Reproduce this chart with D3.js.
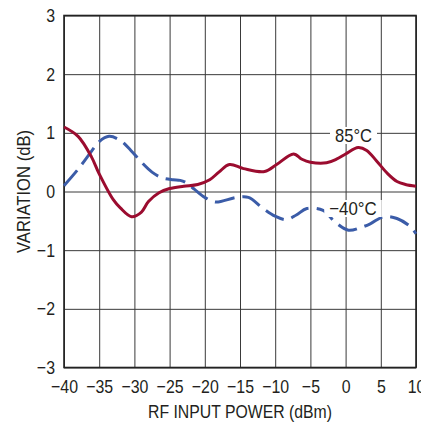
<!DOCTYPE html>
<html><head><meta charset="utf-8">
<script src="https://cdn.jsdelivr.net/npm/d3@7"></script>
<style>
html,body{margin:0;padding:0;background:#fff;}
svg{display:block;}
text{font-family:"Liberation Sans Narrow","Arial Narrow","Liberation Sans",sans-serif;fill:#231f20;}
</style></head>
<body>
<svg id="chart" width="421" height="423"></svg>
<script>
// ---- data ----
const xTicks = [-40,-35,-30,-25,-20,-15,-10,-5,0,5,10];
const yTicks = [-3,-2,-1,0,1,2,3];
const xTitle = "RF INPUT POWER (dBm)";
const yTitle = "VARIATION (dB)";
const seriesNames = ["85°C","−40°C"];
// 85°C series (dBm, dB)
const hotX = [-40,-38,-36.1,-35,-33,-32,-30.4,-29,-28,-26.5,-25,-23,-21,-19.3,-18,-16.5,-14.5,-11.5,-9.8,-7.4,-6.2,-5,-2.7,-1.3,0,1.8,3,4.4,6,7.3,8.5,10];
const hotY = [1.1,0.94,0.59,0.3,-0.14,-0.28,-0.43,-0.35,-0.17,-0.02,0.05,0.09,0.12,0.2,0.33,0.46,0.39,0.34,0.46,0.64,0.55,0.5,0.49,0.55,0.64,0.75,0.7,0.52,0.3,0.17,0.12,0.09];
// -40°C series
const coldX = [-40,-38,-36,-35,-33.6,-32,-30.5,-29,-27.5,-26,-24.5,-23.5,-22.5,-21.5,-20,-18.5,-15.5,-13.8,-11.7,-10,-8.4,-7,-5.5,-3.2,-1.5,0.4,2,3.5,5.4,7.3,9.2,10];
const coldY = [0.1,0.38,0.7,0.85,0.94,0.87,0.7,0.5,0.33,0.23,0.2,0.19,0.14,0.04,-0.1,-0.18,-0.1,-0.1,-0.29,-0.42,-0.48,-0.4,-0.29,-0.32,-0.52,-0.66,-0.62,-0.55,-0.43,-0.46,-0.6,-0.72];

// ---- layout ----
const svg = d3.select("#chart");
const L = 64, R = 416, T = 15.5, B = 367.5;
const FS = 18.5, SX = 0.86;
const x = d3.scaleLinear().domain([-40,10]).range([L,R]);
const y = d3.scaleLinear().domain([-3,3]).range([B,T]);
const fmt = d => (d < 0 ? "\u2212" + Math.abs(d) : String(d));

// grid
const gx = svg.append("g").attr("transform",`translate(0,${B})`)
  .call(d3.axisBottom(x).tickValues(xTicks).tickSize(-(B-T)).tickPadding(12.5).tickFormat(fmt));
gx.select(".domain").remove();
gx.selectAll("line").attr("stroke","#3a3a3a").attr("stroke-width",1);
gx.selectAll("text").attr("font-size",FS).attr("fill","#231f20").attr("font-family",null)
  .attr("transform",`scale(${SX},1)`);

const gy = svg.append("g").attr("transform",`translate(${L},0)`)
  .call(d3.axisLeft(y).tickValues(yTicks).tickSize(-(R-L)).tickPadding(9).tickFormat(fmt));
gy.select(".domain").remove();
gy.selectAll("line").attr("stroke","#3a3a3a").attr("stroke-width",1);
gy.selectAll("text").attr("font-size",FS).attr("fill","#231f20").attr("font-family",null)
  .attr("x",-9/SX).attr("transform",`scale(${SX},1)`);

// frame
svg.append("rect").attr("x",L).attr("y",T).attr("width",R-L).attr("height",B-T)
  .attr("fill","none").attr("stroke","#222").attr("stroke-width",1.6);

// curves
const line = d3.line().x(d=>x(d[0])).y(d=>y(d[1])).curve(d3.curveCatmullRom.alpha(0.5));
const hot = hotX.map((v,i)=>[v,hotY[i]]);
const cold = coldX.map((v,i)=>[v,coldY[i]]);

svg.append("path").datum(cold).attr("d",line).attr("fill","none")
  .attr("stroke","#3b5ca8").attr("stroke-width",3).attr("stroke-dasharray","20,8");
svg.append("path").datum(hot).attr("d",line).attr("fill","none")
  .attr("stroke","#9b0c2f").attr("stroke-width",3);

// series labels with white backgrounds
function label(txt, cx, base, w){
  svg.append("rect").attr("x",cx-w/2-5).attr("y",base-15).attr("width",w+10).attr("height",17).attr("fill","#fff");
  svg.append("text").attr("x",cx).attr("y",base).attr("text-anchor","middle").attr("font-size",FS)
    .attr("textLength",w).attr("lengthAdjust","spacingAndGlyphs").text(txt);
}
label(seriesNames[0], 353.5, 142, 37);
label(seriesNames[1], 353, 215, 47.5);

// axis titles
svg.append("text").attr("x",240).attr("y",417.5).attr("text-anchor","middle").attr("font-size",FS)
  .attr("textLength",184).attr("lengthAdjust","spacingAndGlyphs").text(xTitle);
svg.append("text").attr("transform",`translate(29.5,191.5) rotate(-90)`).attr("text-anchor","middle").attr("font-size",FS)
  .attr("textLength",123).attr("lengthAdjust","spacingAndGlyphs").text(yTitle);
</script>
</body></html>
